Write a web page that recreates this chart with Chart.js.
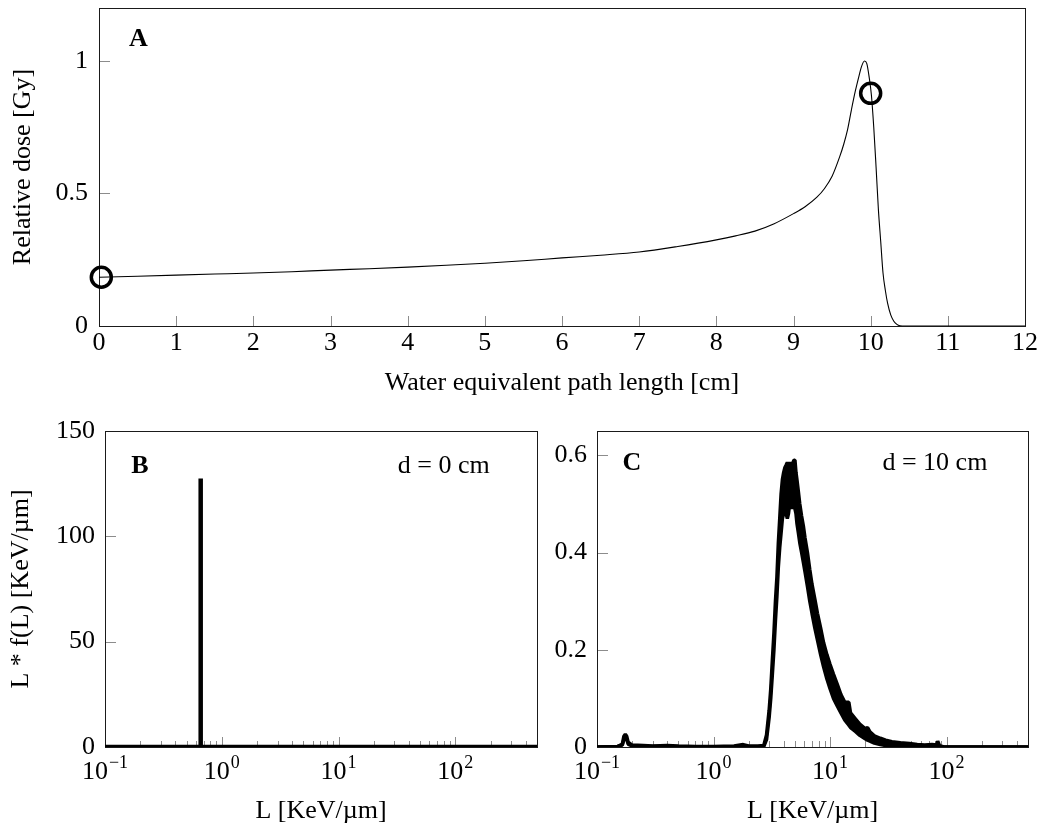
<!DOCTYPE html>
<html>
<head>
<meta charset="utf-8">
<title>Bragg peak and LET spectra</title>
<script src="https://cdn.jsdelivr.net/npm/chart.js@4.4.1/dist/chart.umd.min.js"></script>
<style>
  body { margin: 0; background: #fff; }
  #wrap { position: relative; width: 1047px; height: 827px; }
  canvas { position: absolute; }
</style>
</head>
<body>
<div id="wrap">
  <canvas id="chartA" width="1047" height="400" style="left:0;top:0;width:1047px;height:400px"></canvas>
  <canvas id="chartB" width="545" height="427" style="left:0;top:400px;width:545px;height:427px"></canvas>
  <canvas id="chartC" width="502" height="427" style="left:545px;top:400px;width:502px;height:427px"></canvas>
</div>
<script>
// ---- panel A: depth dose curve ----
const depthCm = [0, 0.5, 1, 1.5, 2, 2.5, 3, 3.5, 4, 4.5, 5, 5.5, 6, 6.5, 7, 7.5, 8, 8.25, 8.5, 8.75,
  9, 9.15, 9.3, 9.4, 9.5, 9.6, 9.65, 9.7, 9.75, 9.8, 9.85, 9.88, 9.92, 9.95, 9.98, 10.01, 10.04,
  10.07, 10.1, 10.13, 10.16, 10.19, 10.22, 10.26, 10.3, 10.34, 10.38, 10.45, 11, 12];
const relDose = [0.184, 0.188, 0.192, 0.196, 0.2, 0.205, 0.211, 0.216, 0.222, 0.229, 0.237, 0.246, 0.257, 0.267, 0.279, 0.3, 0.325, 0.34, 0.358, 0.386,
  0.424, 0.45, 0.485, 0.518, 0.565, 0.64, 0.685, 0.74, 0.815, 0.885, 0.945, 0.978, 1.0, 0.99, 0.94, 0.87, 0.75,
  0.6, 0.44, 0.32, 0.2, 0.135, 0.085, 0.042, 0.018, 0.006, 0.001, 0, 0, 0];
const markerDepth = [0.03, 10];
const markerDose = [0.184, 0.878];
const xTicksA = [0, 1, 2, 3, 4, 5, 6, 7, 8, 9, 10, 11, 12];
const yTicksA = [0, 0.5, 1];

// ---- panel B: LET spectrum at d = 0 cm ----
const letB = [0.1, 0.657, 0.657, 0.661, 0.661, 500];
const spectrumB = [0, 0, 127.4, 127.4, 0, 0];
const yTicksB = [0, 50, 100, 150];

// ---- panel C: LET spectrum at d = 10 cm (noisy band: lower / upper edge) ----
const letC = [0.1, 0.15, 0.165, 0.17, 0.175, 0.18, 0.185, 0.2, 0.25, 0.3, 0.4, 0.5, 0.7, 1.0, 1.5, 1.8, 2.0, 2.4, 2.7,
  2.85, 3.0, 3.1, 3.2, 3.3, 3.4, 3.5, 3.6, 3.7, 3.8, 3.9, 4.0, 4.1, 4.2, 4.3, 4.4, 4.5, 4.6, 4.7, 4.8, 4.9, 5.0,
  5.1, 5.2, 5.35, 5.5, 5.7, 5.9, 6.1, 6.4, 6.7, 7.0, 7.4, 7.8, 8.3, 8.8, 9.4, 10, 10.7, 11.5, 12.4, 13.4,
  14.5, 15.0, 16.5, 18, 20, 21, 22, 24, 27, 30, 34, 40, 48, 56, 65, 75, 82, 84, 87, 95, 500];
const spectrumCLow = [0, 0.001, 0.004, 0.015, 0.02, 0.016, 0.006, 0.002, 0.001, 0.001, 0.001, 0, 0, 0, 0, 0.002, 0, 0, 0.001,
  0.015, 0.06, 0.1, 0.15, 0.2, 0.26, 0.31, 0.37, 0.41, 0.44, 0.47, 0.48, 0.49, 0.48, 0.47, 0.48, 0.5, 0.49, 0.5, 0.49, 0.5, 0.49,
  0.48, 0.46, 0.44, 0.42, 0.4, 0.38, 0.36, 0.33, 0.3, 0.275, 0.245, 0.22, 0.19, 0.165, 0.14, 0.12, 0.1, 0.085, 0.07, 0.055,
  0.045, 0.04, 0.032, 0.024, 0.017, 0.014, 0.012, 0.008, 0.005, 0.003, 0.002, 0.001, 0.001, 0, 0, 0, 0, 0.003, 0, 0, 0];
const spectrumCHigh = [0, 0.001, 0.006, 0.022, 0.026, 0.022, 0.01, 0.004, 0.003, 0.002, 0.003, 0.002, 0.001, 0.001, 0.002, 0.005, 0.002, 0.002, 0.003,
  0.025, 0.075, 0.12, 0.18, 0.235, 0.3, 0.35, 0.42, 0.47, 0.52, 0.55, 0.565, 0.575, 0.58, 0.585, 0.58, 0.585, 0.58, 0.58, 0.585, 0.59, 0.59,
  0.565, 0.55, 0.525, 0.5, 0.475, 0.455, 0.43, 0.4, 0.365, 0.335, 0.305, 0.275, 0.245, 0.215, 0.19, 0.17, 0.15, 0.13, 0.108, 0.092,
  0.092, 0.07, 0.058, 0.047, 0.038, 0.04, 0.031, 0.023, 0.018, 0.014, 0.011, 0.009, 0.007, 0.005, 0.004, 0.005, 0.004, 0.012, 0.003, 0, 0];
const yTicksC = [0, 0.2, 0.4, 0.6];

// shared log axis ticks
const letTicks = [0.1, 0.2, 0.3, 0.4, 0.5, 0.6, 0.7, 0.8, 0.9, 1, 2, 3, 4, 5, 6, 7, 8, 9,
  10, 20, 30, 40, 50, 60, 70, 80, 90, 100, 200, 300, 400];
const letPowers = [0.1, 1, 10, 100];
const letExponents = ['\u22121', '0', '1', '2'];

const SERIF = '"Liberation Serif", "Times New Roman", serif';
Chart.defaults.font.family = SERIF;
Chart.defaults.font.size = 26;
Chart.defaults.color = '#000';

const toPoints = (xs, ys) => xs.map((x, i) => ({ x: x, y: ys[i] }));
const setTicks = list => scale => { scale.ticks = list.map(v => ({ value: v })); };
const isPower = v => Math.abs(Math.log10(v) - Math.round(Math.log10(v))) < 1e-9;
const fixWidth = w => s => { s.width = w; s.paddingTop = 0; s.paddingBottom = 0; };
const fixHeight = h => s => { s.height = h; s.paddingLeft = 0; s.paddingRight = 0; };

// pgfplots-like box, inward ticks, panel letters and 10^n labels
const pgfAxes = {
  id: 'pgfAxes',
  beforeDatasetsDraw(chart, args, opts) {
    const ctx = chart.ctx, a = chart.chartArea;
    const xs = chart.scales.x, ys = chart.scales.y;
    ctx.save();
    ctx.strokeStyle = '#8c8c8c';
    ctx.lineWidth = 1;
    ctx.beginPath();
    xs.ticks.forEach(t => {
      const px = Math.round(xs.getPixelForValue(t.value)) + 0.5;
      const len = opts.logX && !isPower(t.value) ? 6 : 10;
      ctx.moveTo(px, a.bottom);
      ctx.lineTo(px, a.bottom - len);
    });
    ys.ticks.forEach(t => {
      const py = Math.round(ys.getPixelForValue(t.value)) + 0.5;
      ctx.moveTo(a.left, py);
      ctx.lineTo(a.left + 11, py);
    });
    ctx.stroke();
    ctx.strokeStyle = '#1a1a1a';
    ctx.strokeRect(Math.round(a.left) + 0.5, Math.round(a.top) + 0.5,
      Math.round(a.right - a.left), Math.round(a.bottom - a.top));
    ctx.restore();
  },
  afterDraw(chart, args, opts) {
    const ctx = chart.ctx, a = chart.chartArea;
    ctx.save();
    ctx.fillStyle = '#000';
    ctx.textBaseline = 'alphabetic';
    ctx.textAlign = 'center';
    ctx.font = 'bold 26px ' + SERIF;
    ctx.fillText(opts.panel, a.left + opts.panelX, a.top + opts.panelY);
    if (opts.note) {
      ctx.font = '26px ' + SERIF;
      ctx.fillText(opts.note, a.left + (a.right - a.left) * 0.784, a.top + opts.panelY);
    }
    if (opts.logX) {
      const xs = chart.scales.x;
      ctx.textAlign = 'left';
      letPowers.forEach((p, i) => {
        ctx.font = '26px ' + SERIF;
        const wb = ctx.measureText('10').width;
        ctx.font = '18px ' + SERIF;
        const we = ctx.measureText(letExponents[i]).width;
        const x0 = xs.getPixelForValue(p) - (wb + we + 1) / 2;
        const yb = a.bottom + 31.5;
        ctx.font = '26px ' + SERIF;
        ctx.fillText('10', x0, yb);
        ctx.font = '18px ' + SERIF;
        ctx.fillText(letExponents[i], x0 + wb + 1, yb - 11);
      });
    }
    ctx.restore();
  }
};

const baseOpts = {
  responsive: false,
  animation: false,
  events: [],
  plugins: { legend: { display: false }, tooltip: { enabled: false } }
};

// panel A
new Chart(document.getElementById('chartA'), {
  type: 'line',
  data: {
    datasets: [
      {
        data: toPoints(depthCm, relDose),
        borderColor: '#000',
        borderWidth: 1.1,
        pointRadius: 0,
        cubicInterpolationMode: 'monotone'
      },
      {
        data: toPoints(markerDepth, markerDose),
        showLine: false,
        pointRadius: 10,
        pointBorderWidth: 3.5,
        pointBorderColor: '#000',
        pointBackgroundColor: 'rgba(0,0,0,0)',
        clip: false
      }
    ]
  },
  options: Object.assign({}, baseOpts, {
    layout: { autoPadding: false, padding: { top: 8, right: 22, left: 0, bottom: 0 } },
    scales: {
      x: {
        type: 'linear', min: 0, max: 12,
        afterBuildTicks: setTicks(xTicksA),
        afterFit: fixHeight(74),
        grid: { display: false, drawTicks: false },
        border: { display: false },
        ticks: { padding: 2, autoSkip: false, maxRotation: 0 },
        title: { display: true, text: 'Water equivalent path length [cm]', padding: { top: 0, bottom: 1 } }
      },
      y: {
        type: 'linear', min: 0, max: 1.2,
        afterBuildTicks: setTicks(yTicksA),
        afterFit: fixWidth(99),
        grid: { display: false, drawTicks: false },
        border: { display: false },
        ticks: { padding: 11, callback: v => String(v) },
        title: { display: true, text: 'Relative dose [Gy]', padding: { top: 8, bottom: 0 } }
      }
    },
    plugins: Object.assign({}, baseOpts.plugins, {
      pgfAxes: { panel: 'A', panelX: 39.5, panelY: 38, logX: false }
    })
  }),
  plugins: [pgfAxes]
});

function spectrumChart(id, datasets, yMax, yTicks, yTitle, yWidth, rightPad, panel, note, panelY) {
  return new Chart(document.getElementById(id), {
    type: 'line',
    data: { datasets: datasets },
    options: Object.assign({}, baseOpts, {
      layout: { autoPadding: false, padding: { top: 31, right: rightPad, left: 0, bottom: 0 } },
      scales: {
        x: {
          type: 'logarithmic', min: 0.1, max: 500,
          afterBuildTicks: setTicks(letTicks),
          afterFit: fixHeight(80),
          grid: { display: false, drawTicks: false },
          border: { display: false },
          ticks: { display: false },
          title: { display: true, text: 'L [KeV/\u00b5m]', padding: { top: 0, bottom: 0 } }
        },
        y: {
          type: 'linear', min: 0, max: yMax,
          afterBuildTicks: setTicks(yTicks),
          afterFit: fixWidth(yWidth),
          grid: { display: false, drawTicks: false },
          border: { display: false },
          ticks: { padding: 10, callback: v => String(v) },
          title: { display: !!yTitle, text: yTitle || '', padding: { top: 6, bottom: 0 } }
        }
      },
      plugins: Object.assign({}, baseOpts.plugins, {
        pgfAxes: { panel: panel, note: note, panelX: 35, panelY: panelY, logX: true }
      })
    }),
    plugins: [pgfAxes]
  });
}

const thick = { borderColor: '#000', borderWidth: 4.5, borderJoinStyle: 'bevel', pointRadius: 0, tension: 0 };

spectrumChart('chartB', [
  Object.assign({ data: toPoints(letB, spectrumB) }, thick)
], 150, yTicksB, 'L * f(L) [KeV/\u00b5m]', 105, 8, 'B', 'd = 0 cm', 42);

spectrumChart('chartC', [
  Object.assign({ data: toPoints(letC, spectrumCHigh), fill: '+1', backgroundColor: '#000' }, thick, { borderWidth: 3.5 }),
  Object.assign({ data: toPoints(letC, spectrumCLow) }, thick, { borderWidth: 3.5 })
], 0.65, yTicksC, null, 52, 19, 'C', 'd = 10 cm', 39);
</script>
</body>
</html>
